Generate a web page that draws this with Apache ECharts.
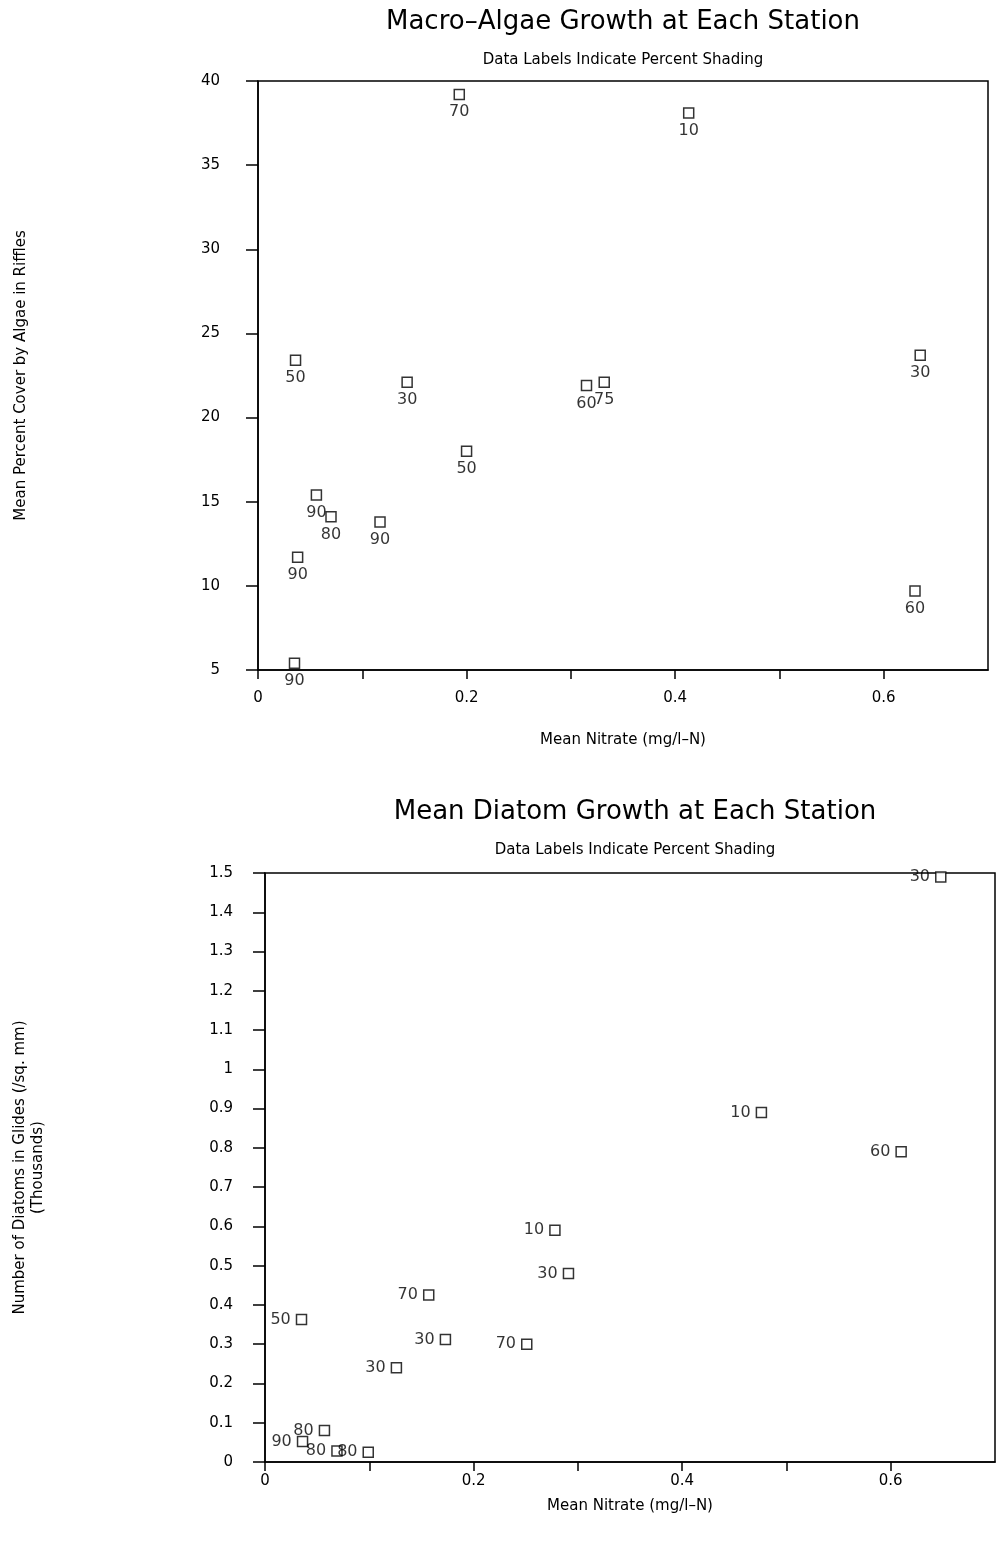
<!DOCTYPE html>
<html>
<head>
<meta charset="utf-8">
<script src="https://cdn.jsdelivr.net/npm/echarts@6/dist/echarts.min.js"></script>
<style>
  html, body { margin: 0; padding: 0; background: #fff; }
  #chart { width: 997px; height: 1545px; }
</style>
</head>
<body>
<div id="chart"></div>
<script>
// macro-algae: [nitrate, percent cover]
const algaeNitrate = [0.193, 0.413, 0.036, 0.143, 0.315, 0.332, 0.635, 0.200, 0.056, 0.070, 0.117, 0.038, 0.630, 0.035]
const algaeCover = [39.2, 38.1, 23.4, 22.1, 21.9, 22.1, 23.7, 18.0, 15.4, 14.1, 13.8, 11.7, 9.7, 5.4]
const algaeShading = ['70', '10', '50', '30', '60', '75', '30', '50', '90', '80', '90', '90', '60', '90']

// diatoms: [nitrate, thousands per sq. mm]
const diatomNitrate = [0.648, 0.476, 0.610, 0.278, 0.291, 0.157, 0.035, 0.173, 0.251, 0.126, 0.036, 0.057, 0.069, 0.099]
const diatomCount = [1.49, 0.89, 0.79, 0.59, 0.48, 0.425, 0.363, 0.312, 0.300, 0.240, 0.052, 0.080, 0.028, 0.025]
const diatomShading = ['30', '10', '60', '10', '30', '70', '50', '30', '70', '30', '90', '80', '80', '80']

const font = 'DejaVu Sans'
const black = '#000'

function pts(xs, ys, labels) {
  return xs.map((x, i) => ({ value: [x, ys[i]], name: labels[i] }))
}

function xAxisCfg(gridIndex, labelMargin, nameGap) {
  return {
    gridIndex,
    type: 'value',
    min: 0,
    max: 0.7,
    interval: 0.1,
    name: 'Mean Nitrate (mg/l\u2013N)',
    nameLocation: 'middle',
    nameGap,
    nameTextStyle: { fontFamily: font, fontSize: 15, color: black },
    axisLine: { lineStyle: { color: black, width: 1.5 } },
    axisTick: { show: true, length: 9, lineStyle: { color: black, width: 1.5 } },
    axisLabel: {
      fontFamily: font, fontSize: 15, color: black, margin: labelMargin,
      showMaxLabel: false,
      formatter: (v) => (Math.round(v * 10) % 2 === 0 ? String(+v.toFixed(1)) : '')
    },
    splitLine: { show: false }
  }
}

const chart = echarts.init(document.getElementById('chart'), null, { renderer: 'canvas' })

const option = {
  backgroundColor: '#fff',
  animation: false,
  title: [
    {
      text: 'Macro\u2013Algae Growth at Each Station',
      subtext: 'Data Labels Indicate Percent Shading',
      left: 618, top: 4, textAlign: 'center',
      itemGap: 18,
      textStyle: { fontFamily: font, fontSize: 26, fontWeight: 'normal', color: black },
      subtextStyle: { fontFamily: font, fontSize: 15, color: black }
    },
    {
      text: 'Mean Diatom Growth at Each Station',
      subtext: 'Data Labels Indicate Percent Shading',
      left: 630, top: 794, textAlign: 'center',
      itemGap: 18,
      textStyle: { fontFamily: font, fontSize: 26, fontWeight: 'normal', color: black },
      subtextStyle: { fontFamily: font, fontSize: 15, color: black }
    }
  ],
  grid: [
    { left: 258, top: 81, width: 730, height: 589, show: true, borderColor: black, borderWidth: 1.5, backgroundColor: 'transparent' },
    { left: 265, top: 873, width: 730, height: 589, show: true, borderColor: black, borderWidth: 1.5, backgroundColor: 'transparent' }
  ],
  xAxis: [
    xAxisCfg(0, 21, 63),
    xAxisCfg(1, 12, 37)
  ],
  yAxis: [
    {
      gridIndex: 0,
      type: 'value',
      min: 5,
      max: 40,
      interval: 5,
      name: 'Mean Percent Cover by Algae in Riffles',
      nameLocation: 'middle',
      nameGap: 229,
      nameTextStyle: { fontFamily: font, fontSize: 15, color: black },
      axisLine: { lineStyle: { color: black, width: 1.5 } },
      axisTick: { show: true, length: 12, lineStyle: { color: black, width: 1.5 } },
      axisLabel: { fontFamily: font, fontSize: 15, color: black, margin: 38 },
      splitLine: { show: false }
    },
    {
      gridIndex: 1,
      type: 'value',
      min: 0,
      max: 1.5,
      interval: 0.1,
      name: 'Number of Diatoms in Glides (/sq. mm)\n(Thousands)',
      nameLocation: 'middle',
      nameGap: 218,
      nameTextStyle: { fontFamily: font, fontSize: 15, color: black, lineHeight: 18 },
      axisLine: { lineStyle: { color: black, width: 1.5 } },
      axisTick: { show: true, length: 12, lineStyle: { color: black, width: 1.5 } },
      axisLabel: { fontFamily: font, fontSize: 15, color: black, margin: 32 },
      splitLine: { show: false }
    }
  ],
  series: [
    {
      type: 'scatter',
      xAxisIndex: 0,
      yAxisIndex: 0,
      symbol: 'rect',
      symbolSize: [10, 10],
      itemStyle: { color: '#fff', borderColor: black, borderWidth: 1.5 },
      label: {
        show: true, position: 'bottom', distance: 4,
        formatter: (p) => p.name,
        fontFamily: font, fontSize: 16, color: black
      },
      labelLayout: { hideOverlap: false },
      data: pts(algaeNitrate, algaeCover, algaeShading)
    },
    {
      type: 'scatter',
      xAxisIndex: 1,
      yAxisIndex: 1,
      symbol: 'rect',
      symbolSize: [10, 10],
      itemStyle: { color: '#fff', borderColor: black, borderWidth: 1.5 },
      label: {
        show: true, position: 'left', distance: 5,
        formatter: (p) => p.name,
        fontFamily: font, fontSize: 16, color: black
      },
      labelLayout: { hideOverlap: false },
      data: pts(diatomNitrate, diatomCount, diatomShading)
    }
  ]
}

chart.setOption(option)
</script>
</body>
</html>
